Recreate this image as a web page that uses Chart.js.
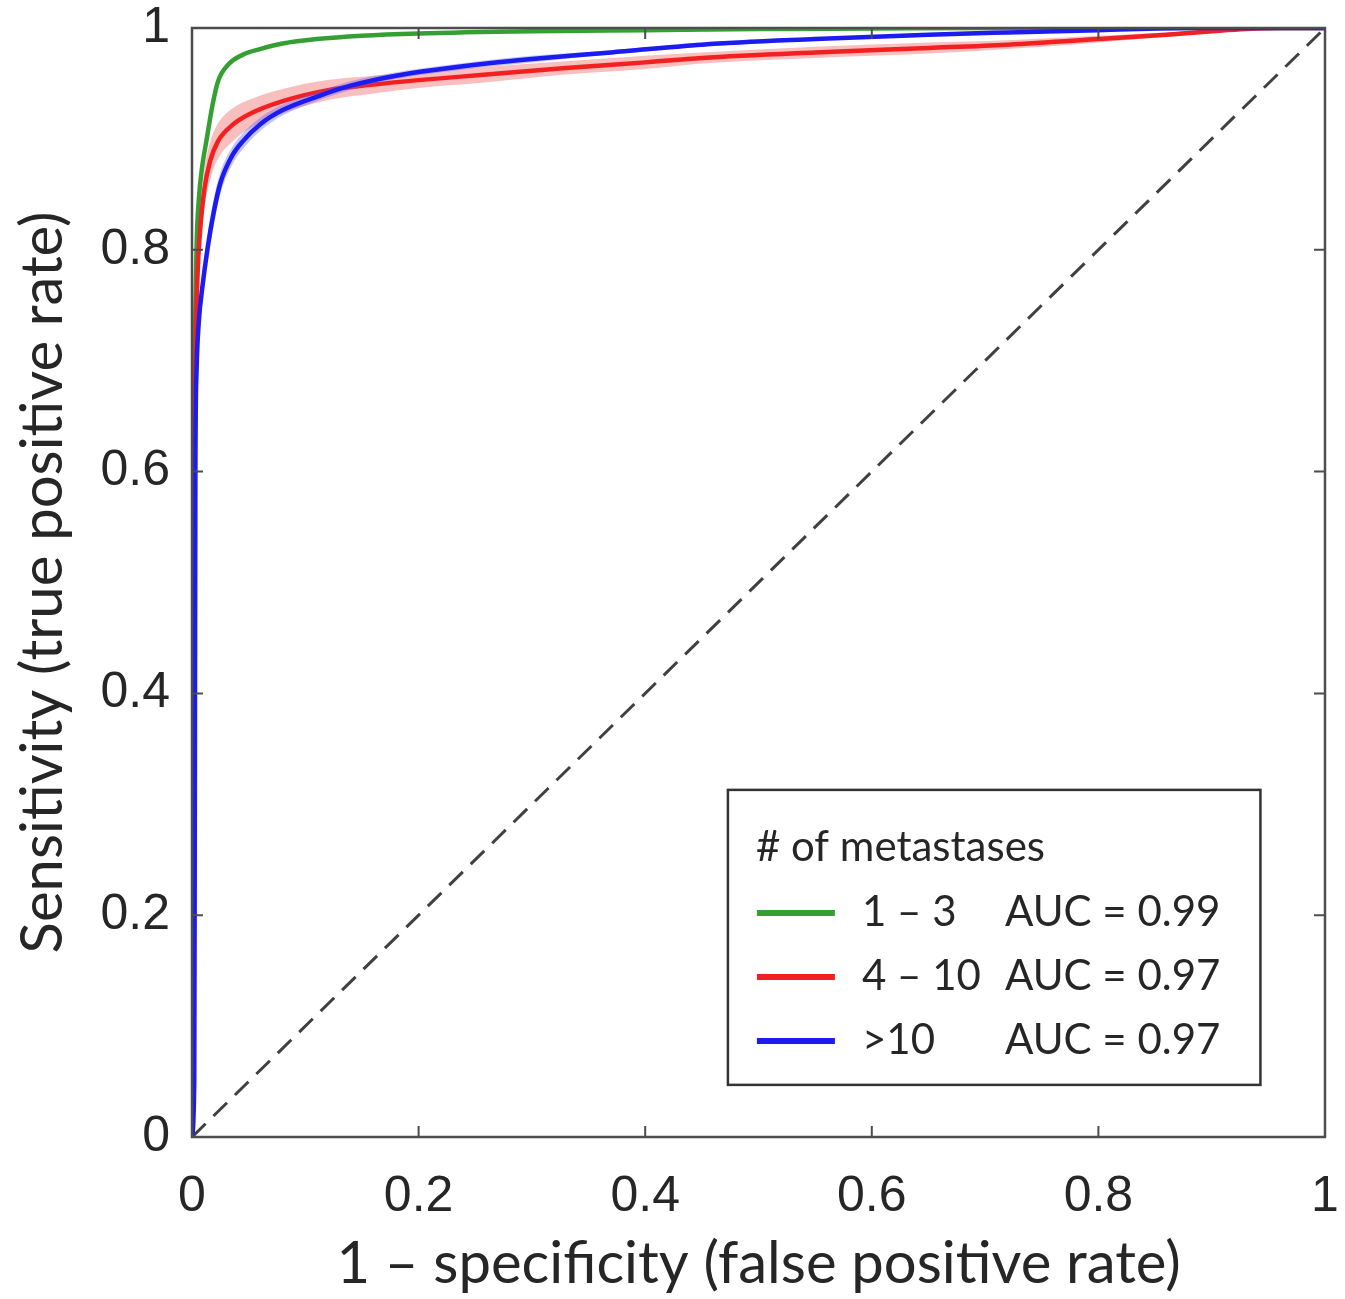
<!DOCTYPE html>
<html>
<head>
<meta charset="utf-8">
<script src="https://cdn.jsdelivr.net/npm/chart.js@4"></script>
<style>
html,body{margin:0;padding:0;background:#fff;}
#wrap{width:1345px;height:1299px;position:relative;}
</style>
</head>
<body>
<div id="wrap"><canvas id="c" width="1345" height="1299"></canvas></div>
<script>
// ---- data ----
const tickValues = [0, 0.2, 0.4, 0.6, 0.8, 1];
const tickLabels = ['0', '0.2', '0.4', '0.6', '0.8', '1'];

const seriesNames = ['1 \u2013 3', '4 \u2013 10', '>10'];
const seriesAUC = ['AUC = 0.99', 'AUC = 0.97', 'AUC = 0.97'];
const legendTitle = '# of metastases';

const greenFPR = [0, 0.001, 0.002, 0.004, 0.006, 0.009, 0.013, 0.018, 0.023, 0.032, 0.045, 0.06, 0.08, 0.11, 0.15, 0.2, 0.3, 0.4, 0.5, 0.6, 0.7, 0.8, 0.9, 1];
const greenTPR = [0, 0.45, 0.65, 0.8, 0.845, 0.875, 0.9, 0.93, 0.952, 0.967, 0.976, 0.981, 0.986, 0.99, 0.993, 0.995, 0.997, 0.998, 0.999, 0.9995, 1, 1, 1, 1];

const redFPR = [0, 0.001, 0.002, 0.003, 0.005, 0.007, 0.011, 0.016, 0.023, 0.035, 0.05, 0.08, 0.12, 0.16, 0.2, 0.26, 0.33, 0.4, 0.45, 0.55, 0.65, 0.72, 0.8, 0.86, 0.9, 0.93, 0.96, 1];
const redTPR = [0, 0.4, 0.6, 0.7, 0.78, 0.815, 0.855, 0.88, 0.898, 0.912, 0.922, 0.934, 0.944, 0.949, 0.953, 0.958, 0.964, 0.969, 0.973, 0.978, 0.982, 0.985, 0.99, 0.994, 0.997, 0.999, 1, 1];
const redUpper = [0, 0.42, 0.62, 0.72, 0.795, 0.832, 0.872, 0.897, 0.914, 0.927, 0.935, 0.945, 0.953, 0.957, 0.96, 0.965, 0.97, 0.975, 0.978, 0.983, 0.987, 0.989, 0.993, 0.996, 0.998, 1, 1, 1];
const redLower = [0, 0.38, 0.58, 0.68, 0.765, 0.798, 0.838, 0.863, 0.882, 0.897, 0.909, 0.923, 0.935, 0.941, 0.946, 0.951, 0.958, 0.963, 0.968, 0.973, 0.977, 0.981, 0.987, 0.992, 0.995, 0.998, 1, 1];

const blueFPR = [0, 0.002, 0.0025, 0.003, 0.004, 0.006, 0.009, 0.014, 0.019, 0.025, 0.035, 0.045, 0.06, 0.08, 0.11, 0.14, 0.18, 0.22, 0.26, 0.3, 0.37, 0.45, 0.55, 0.65, 0.72, 0.8, 0.88, 0.94, 1];
const blueTPR = [0, 0.05, 0.3, 0.6, 0.69, 0.735, 0.765, 0.803, 0.833, 0.86, 0.884, 0.898, 0.913, 0.926, 0.938, 0.948, 0.957, 0.963, 0.968, 0.972, 0.978, 0.985, 0.99, 0.994, 0.996, 0.998, 1, 1, 1];
const blueUpper = [0, 0.05, 0.31, 0.61, 0.7, 0.75, 0.78, 0.816, 0.845, 0.87, 0.892, 0.905, 0.919, 0.931, 0.942, 0.952, 0.96, 0.966, 0.971, 0.975, 0.98, 0.987, 0.991, 0.995, 0.997, 0.999, 1, 1, 1];
const blueLower = [0, 0.05, 0.29, 0.59, 0.68, 0.72, 0.75, 0.79, 0.821, 0.85, 0.876, 0.891, 0.907, 0.921, 0.934, 0.944, 0.954, 0.96, 0.965, 0.969, 0.976, 0.983, 0.989, 0.993, 0.995, 0.997, 0.999, 1, 1];

const chanceFPR = [0, 1];
const chanceTPR = [0, 1];

// ---- helpers ----
const pts = (xs, ys) => xs.map((x, i) => ({x: x, y: ys[i]}));
const GREEN = 'rgb(52,160,52)';
const RED = 'rgb(242,32,32)';
const BLUE = 'rgb(28,28,240)';
const AXIS = '#4d4d4d';
const TEXT = '#262626';

const lineDs = (label, xs, ys, color) => ({
  label, data: pts(xs, ys), borderColor: color, borderWidth: 4.5,
  pointRadius: 0, fill: false, cubicInterpolationMode: 'monotone'
});
const bandDs = (label, xs, ys, color, fill) => ({
  label, data: pts(xs, ys), borderColor: 'rgba(0,0,0,0)', borderWidth: 0,
  backgroundColor: color, pointRadius: 0, fill: fill, cubicInterpolationMode: 'monotone'
});

const zeroPad = s => { s.paddingLeft = 0; s.paddingRight = 0; s.paddingTop = 0; s.paddingBottom = 0; };

// box + inward ticks + legend
const boxPlugin = {
  id: 'box',
  afterDatasetsDraw(chart) {
    const {ctx, chartArea: a, scales: {x, y}} = chart;
    ctx.save();
    ctx.strokeStyle = AXIS;
    ctx.lineWidth = 2.5;
    ctx.strokeRect(a.left, a.top, a.right - a.left, a.bottom - a.top);
    const L = 11;
    ctx.lineWidth = 2;
    ctx.beginPath();
    tickValues.forEach(v => {
      if (v === 0 || v === 1) return;
      const px = x.getPixelForValue(v);
      ctx.moveTo(px, a.bottom); ctx.lineTo(px, a.bottom - L);
      ctx.moveTo(px, a.top); ctx.lineTo(px, a.top + L);
      const py = y.getPixelForValue(v);
      ctx.moveTo(a.left, py); ctx.lineTo(a.left + L, py);
      ctx.moveTo(a.right, py); ctx.lineTo(a.right - L, py);
    });
    ctx.stroke();
    ctx.restore();
  },
  afterDraw(chart) {
    const {ctx, scales: {x, y}} = chart;
    const colors = [GREEN, RED, BLUE];
    const x0 = x.getPixelForValue(0.473), x1 = x.getPixelForValue(0.943);
    const y0 = y.getPixelForValue(0.313), y1 = y.getPixelForValue(0.047);
    ctx.save();
    ctx.fillStyle = '#fff';
    ctx.fillRect(x0, y0, x1 - x0, y1 - y0);
    ctx.strokeStyle = '#333';
    ctx.lineWidth = 2.5;
    ctx.strokeRect(x0, y0, x1 - x0, y1 - y0);
    ctx.fillStyle = TEXT;
    ctx.font = '42px Lato, "Open Sans", sans-serif';
    ctx.textBaseline = 'middle';
    ctx.textAlign = 'left';
    ctx.fillText(legendTitle, x0 + 28, y0 + 58);
    const rowY = [y0 + 123, y0 + 187, y0 + 251];
    seriesNames.forEach((n, i) => {
      ctx.strokeStyle = colors[i];
      ctx.lineWidth = 6;
      ctx.beginPath();
      ctx.moveTo(x0 + 29, rowY[i]); ctx.lineTo(x0 + 107, rowY[i]);
      ctx.stroke();
      ctx.fillStyle = TEXT;
      ctx.fillText(n, x0 + 134, rowY[i]);
      ctx.fillText(seriesAUC[i], x0 + 277, rowY[i]);
    });
    ctx.restore();
  }
};

const tickCallback = (v) => {
  const i = tickValues.findIndex(t => Math.abs(t - v) < 1e-9);
  return i >= 0 ? tickLabels[i] : '';
};

new Chart(document.getElementById('c'), {
  type: 'line',
  data: {
    datasets: [
      lineDs(seriesNames[2], blueFPR, blueTPR, BLUE),
      bandDs('blue upper', blueFPR, blueUpper, 'rgba(90,90,255,0.35)', '+1'),
      bandDs('blue lower', blueFPR, blueLower, 'rgba(0,0,0,0)', false),
      lineDs(seriesNames[1], redFPR, redTPR, RED),
      bandDs('red upper', redFPR, redUpper, 'rgba(242,110,110,0.45)', '+1'),
      bandDs('red lower', redFPR, redLower, 'rgba(0,0,0,0)', false),
      lineDs(seriesNames[0], greenFPR, greenTPR, GREEN),
      {
        label: 'chance', data: pts(chanceFPR, chanceTPR), borderColor: '#404040',
        borderWidth: 3, borderDash: [19, 11], pointRadius: 0, fill: false
      }
    ]
  },
  options: {
    responsive: false,
    animation: false,
    layout: {padding: {left: 0, right: 20, top: 28, bottom: 0}},
    plugins: {legend: {display: false}, tooltip: {enabled: false}},
    scales: {
      x: {
        type: 'linear', min: 0, max: 1,
        afterFit: s => { s.height = 162; zeroPad(s); },
        afterBuildTicks: s => { s.ticks = tickValues.map(v => ({value: v})); },
        grid: {display: false, drawTicks: false},
        border: {display: false},
        ticks: {callback: tickCallback, color: TEXT, padding: 30, maxRotation: 0,
                font: {family: '"Liberation Sans", Arial, sans-serif', size: 50}},
        title: {display: true, text: '1 \u2013 specificity (false positive rate)', color: TEXT,
                padding: {top: 0, bottom: 0},
                font: {family: 'Lato, "Open Sans", sans-serif', size: 58}}
      },
      y: {
        type: 'linear', min: 0, max: 1,
        afterFit: s => { s.width = 192; zeroPad(s); },
        afterBuildTicks: s => { s.ticks = tickValues.map(v => ({value: v})); },
        grid: {display: false, drawTicks: false},
        border: {display: false},
        ticks: {callback: tickCallback, color: TEXT, padding: 22,
                font: {family: '"Liberation Sans", Arial, sans-serif', size: 50}},
        title: {display: true, text: 'Sensitivity (true positive rate)', color: TEXT,
                padding: {top: 8, bottom: 0},
                font: {family: 'Lato, "Open Sans", sans-serif', size: 58}}
      }
    }
  },
  plugins: [boxPlugin]
});
</script>
</body>
</html>
